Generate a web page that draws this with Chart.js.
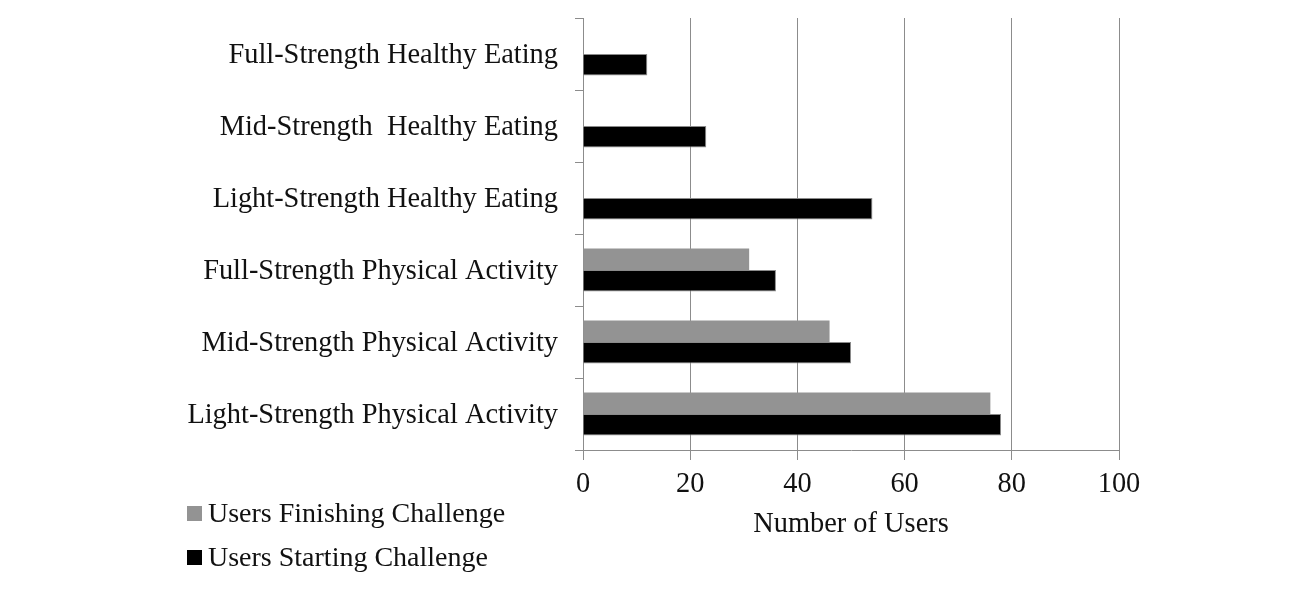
<!DOCTYPE html>
<html>
<head>
<meta charset="utf-8">
<script src="https://cdn.jsdelivr.net/npm/chart.js@4"></script>
<style>
  html, body { margin: 0; padding: 0; background: #fff; }
  #wrap { position: relative; width: 1300px; height: 596px; }
  #legend { position: absolute; left: 187px; top: 491px; font-family: "Liberation Serif", "Times New Roman", serif; font-size: 28px; color: #111; }
  .li { display: flex; align-items: center; height: 44px; }
  .sw { width: 15px; height: 15px; margin-right: 6px; margin-top: 1px; }
</style>
</head>
<body>
<div id="wrap">
  <canvas id="c" width="1300" height="596"></canvas>
  <div id="legend"></div>
</div>
<script>
const categories = [
  "Full-Strength Healthy Eating",
  "Mid-Strength  Healthy Eating",
  "Light-Strength Healthy Eating",
  "Full-Strength Physical Activity",
  "Mid-Strength Physical Activity",
  "Light-Strength Physical Activity"
];
const seriesNames = ["Users Finishing Challenge", "Users Starting Challenge"];
const finishing = [0, 0, 0, 31, 46, 76];
const starting = [12, 23, 54, 36, 50, 78];
const xTicks = [0, 20, 40, 60, 80, 100];
const seriesColors = ["#939393", "#000000"];

const font = { family: '"Liberation Serif", "Times New Roman", serif', size: 28.4 };

const chart = new Chart(document.getElementById('c'), {
  type: 'bar',
  data: {
    labels: categories,
    datasets: [
      { label: seriesNames[0], data: finishing, backgroundColor: seriesColors[0], borderColor: '#a8a8a8', borderWidth: 0 },
      { label: seriesNames[1], data: starting, backgroundColor: seriesColors[1], borderColor: '#8a8a8a', borderWidth: 1 }
    ]
  },
  options: {
    indexAxis: 'y',
    responsive: false,
    animation: false,
    devicePixelRatio: 1,
    layout: { padding: { top: 18, right: 181, left: 0, bottom: 0 } },
    datasets: { bar: { categoryPercentage: 0.6, barPercentage: 1.0 } },
    plugins: { legend: { display: false }, tooltip: { enabled: false } },
    scales: {
      x: {
        min: 0, max: 100,
        afterBuildTicks: (s) => { s.ticks = xTicks.map(v => ({ value: v })); },
        grid: { color: '#8c8c8c', lineWidth: 1, tickLength: 10, drawTicks: true },
        border: { color: '#8c8c8c', width: 1 },
        ticks: { color: '#111', font: font, padding: 8, maxRotation: 0 },
        title: { display: true, text: 'Number of Users', color: '#111', font: font, padding: { top: 0, bottom: 54 } },
        afterFit: (s) => { s.height = 146; }
      },
      y: {
        grid: { drawOnChartArea: false, drawTicks: true, tickLength: 8, color: '#8c8c8c', offset: true },
        border: { color: '#8c8c8c', width: 1 },
        ticks: { color: '#111', font: font, padding: 17, labelOffset: 2 },
        afterFit: (s) => { s.width = 583; s.paddingTop = 0; s.paddingBottom = 0; }
      }
    }
  }
});

const lg = document.getElementById('legend');
seriesNames.forEach((n, i) => {
  const d = document.createElement('div'); d.className = 'li';
  const sw = document.createElement('span'); sw.className = 'sw'; sw.style.background = seriesColors[i];
  const t = document.createElement('span'); t.textContent = n;
  d.appendChild(sw); d.appendChild(t); lg.appendChild(d);
});
</script>
</body>
</html>
